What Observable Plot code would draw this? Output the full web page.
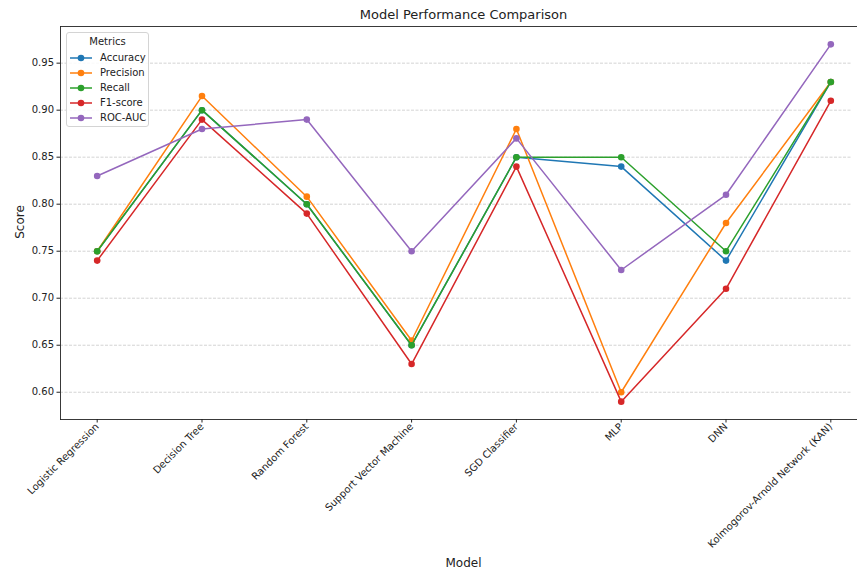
<!DOCTYPE html>
<html>
<head>
<meta charset="utf-8">
<script src="https://cdn.jsdelivr.net/npm/d3@7"></script>
<script src="https://cdn.jsdelivr.net/npm/@observablehq/plot@0.6"></script>
<style>
  html, body { margin: 0; padding: 0; background: #fff; overflow: hidden; }
  #wrap { position: relative; width: 857px; height: 573px; overflow: hidden; font-family: "DejaVu Sans", sans-serif; color: #222; }
  #chart { position: absolute; left: 0; top: 0; width: 857px; height: 573px; }
  .lbl { position: absolute; white-space: nowrap; }
  #legend { position: absolute; left: 66px; top: 32px; width: 83px; height: 95px; border: 1px solid #d4d4d4; border-radius: 3px; background: rgba(255,255,255,0.85); font-size: 10px; box-sizing: border-box; white-space: nowrap; }
  #legend .ttl { text-align: center; margin-top: 3px; height: 14px; line-height: 12px; }
  #legend .row { display: flex; align-items: center; height: 15px; }
  #legend svg { margin-left: 3px; margin-right: 8px; flex: none; }
  #edge { position: absolute; left: 852px; top: 28px; width: 5px; height: 390px; background: #fff; }
</style>
</head>
<body>
<div id="wrap">
  <div id="chart"></div>
  <div id="edge"></div>
  <div class="lbl" style="left:0;width:927px;top:7px;text-align:center;font-size:13px;">Model Performance Comparison</div>
  <div class="lbl" style="left:0;width:927px;top:556px;text-align:center;font-size:12px;">Model</div>
  <div class="lbl" style="left:20px;top:222px;font-size:12px;transform:translate(-50%,-50%) rotate(-90deg);">Score</div>
  <div id="legend"></div>
</div>
<script>
const models = ["Logistic Regression", "Decision Tree", "Random Forest", "Support Vector Machine", "SGD Classifier", "MLP", "DNN", "Kolmogorov-Arnold Network (KAN)"];
const metrics = ["Accuracy", "Precision", "Recall", "F1-score", "ROC-AUC"];
const colors = ["#1f77b4", "#ff7f0e", "#2ca02c", "#d62728", "#9467bd"];
const accuracy  = [0.75, 0.90, 0.80, 0.65, 0.85, 0.84, 0.74, 0.93];
const precision = [0.75, 0.915, 0.808, 0.655, 0.88, 0.60, 0.78, 0.93];
const recall    = [0.75, 0.90, 0.80, 0.65, 0.85, 0.85, 0.75, 0.93];
const f1score   = [0.74, 0.89, 0.79, 0.63, 0.84, 0.59, 0.71, 0.91];
const rocAuc    = [0.83, 0.88, 0.89, 0.75, 0.87, 0.73, 0.81, 0.97];
const yTicks = [0.60, 0.65, 0.70, 0.75, 0.80, 0.85, 0.90, 0.95];

const series = [accuracy, precision, recall, f1score, rocAuc];
const data = metrics.map((m, i) => models.map((model, j) => ({metric: m, model, score: series[i][j]})));

const marks = [
  Plot.gridY(yTicks, {stroke: "#b0b0b0", strokeOpacity: 0.7, strokeWidth: 0.8, strokeDasharray: "3,1.5"}),
];
data.forEach(d => {
  marks.push(Plot.line(d, {x: "model", y: "score", stroke: "metric", strokeWidth: 1.5}));
  marks.push(Plot.dot(d, {x: "model", y: "score", fill: "metric", r: 3.3}));
});
marks.push(Plot.frame({anchor: "top", stroke: "#222", strokeWidth: 0.9}));
marks.push(Plot.frame({anchor: "left", stroke: "#222", strokeWidth: 0.9}));
marks.push(Plot.frame({anchor: "bottom", stroke: "#222", strokeWidth: 0.9}));
marks.push(Plot.axisY({ticks: yTicks, tickFormat: ".2f", tickSize: 3.5, tickPadding: 3, fontSize: 10, label: null, stroke: "#222"}));
marks.push(Plot.axisX({tickSize: 3.5, tickPadding: 2, tickRotate: -45, fontSize: 10, label: null, stroke: "#222"}));

const chart = Plot.plot({
  width: 857,
  height: 573,
  marginLeft: 60,
  marginRight: 0,
  marginTop: 26,
  marginBottom: 154,
  style: {fontFamily: "DejaVu Sans, sans-serif", color: "#222", background: "transparent", overflow: "hidden"},
  x: {type: "point", domain: models, padding: 0.35, round: false, range: [60, 867]},
  y: {domain: [0.571, 0.989]},
  color: {domain: metrics, range: colors},
  marks
});
document.getElementById("chart").appendChild(chart);

const legend = document.getElementById("legend");
legend.innerHTML = `<div class="ttl">Metrics</div>` + metrics.map((m, i) =>
  `<div class="row"><svg width="22" height="10"><line x1="0" y1="5" x2="22" y2="5" stroke="${colors[i]}" stroke-width="1.5"/><circle cx="11" cy="5" r="3.3" fill="${colors[i]}"/></svg><span>${m}</span></div>`
).join("");
</script>
</body>
</html>
